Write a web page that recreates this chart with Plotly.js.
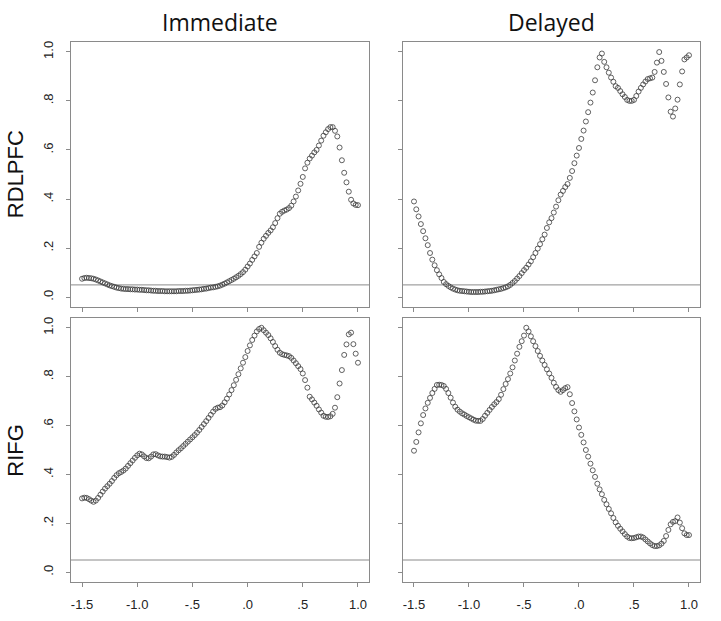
<!DOCTYPE html>
<html>
<head>
<meta charset="utf-8">
<script src="https://cdn.plot.ly/plotly-3.0.1.min.js"></script>
<style>html,body{margin:0;padding:0;background:#fff;}#chart{width:721px;height:621px;}</style>
</head>
<body>
<div id="chart"></div>
<script>
// x grid (moderator values)
const xVals = [
 -1.5,-1.4792,-1.4583,-1.4375,-1.4167,-1.3958,-1.375,-1.3542,-1.3333,-1.3125,-1.2917,-1.2708,-1.25,-1.2292,-1.2083,-1.1875,-1.1667,-1.1458,-1.125,-1.1042,-1.0833,-1.0625,-1.0417,-1.0208,
 -1,-0.9792,-0.9583,-0.9375,-0.9167,-0.8958,-0.875,-0.8542,-0.8333,-0.8125,-0.7917,-0.7708,-0.75,-0.7292,-0.7083,-0.6875,-0.6667,-0.6458,-0.625,-0.6042,-0.5833,-0.5625,-0.5417,-0.5208,
 -0.5,-0.4792,-0.4583,-0.4375,-0.4167,-0.3958,-0.375,-0.3542,-0.3333,-0.3125,-0.2917,-0.2708,-0.25,-0.2292,-0.2083,-0.1875,-0.1667,-0.1458,-0.125,-0.1042,-0.0833,-0.0625,-0.0417,-0.0208,
 0,0.0208,0.0417,0.0625,0.0833,0.1042,0.125,0.1458,0.1667,0.1875,0.2083,0.2292,0.25,0.2708,0.2917,0.3125,0.3333,0.3542,0.375,0.3958,0.4167,0.4375,0.4583,0.4792,
 0.5,0.5208,0.5417,0.5625,0.5833,0.6042,0.625,0.6458,0.6667,0.6875,0.7083,0.7292,0.75,0.7708,0.7917,0.8125,0.8333,0.8542,0.875,0.8958,0.9167,0.9375,0.9583,0.9792,
 1.0];

const immediateRDLPFC = [
 0.075,0.078,0.079,0.078,0.077,0.075,0.072,0.068,0.064,0.060,0.056,0.052,0.048,0.045,0.042,0.039,0.037,0.035,0.034,0.033,0.033,0.032,0.032,0.031,
 0.031,0.030,0.030,0.029,0.028,0.028,0.027,0.026,0.026,0.025,0.025,0.025,0.024,0.024,0.024,0.024,0.024,0.024,0.025,0.025,0.025,0.026,0.026,0.027,
 0.028,0.029,0.030,0.031,0.032,0.034,0.035,0.037,0.039,0.040,0.042,0.044,0.047,0.051,0.055,0.060,0.065,0.070,0.075,0.081,0.087,0.094,0.102,0.112,
 0.125,0.137,0.152,0.166,0.180,0.205,0.222,0.238,0.250,0.262,0.272,0.285,0.302,0.322,0.340,0.348,0.353,0.357,0.363,0.373,0.390,0.410,0.435,0.462,
 0.490,0.525,0.548,0.565,0.577,0.590,0.600,0.618,0.638,0.658,0.672,0.685,0.693,0.693,0.678,0.655,0.610,0.558,0.507,0.468,0.430,0.397,0.382,0.376,
 0.375];

const delayedRDLPFC = [
 0.390,0.358,0.329,0.298,0.269,0.240,0.212,0.180,0.153,0.130,0.110,0.093,0.078,0.062,0.053,0.046,0.040,0.035,0.031,0.028,0.026,0.025,0.024,0.023,
 0.022,0.021,0.021,0.021,0.021,0.022,0.022,0.023,0.024,0.025,0.026,0.028,0.030,0.032,0.034,0.037,0.040,0.044,0.050,0.058,0.066,0.076,0.086,0.098,
 0.110,0.120,0.133,0.146,0.163,0.180,0.198,0.216,0.236,0.255,0.282,0.305,0.322,0.345,0.369,0.395,0.418,0.433,0.449,0.461,0.486,0.514,0.546,0.577,
 0.608,0.645,0.679,0.716,0.754,0.793,0.834,0.884,0.937,0.977,0.993,0.959,0.937,0.915,0.895,0.878,0.860,0.853,0.840,0.827,0.816,0.804,0.800,0.800,
 0.804,0.820,0.838,0.853,0.867,0.879,0.889,0.892,0.895,0.918,0.956,0.999,0.963,0.918,0.869,0.814,0.756,0.736,0.769,0.805,0.867,0.920,0.969,0.977,
 0.986];

const immediateRIFG = [
 0.302,0.305,0.304,0.299,0.293,0.288,0.293,0.304,0.317,0.330,0.342,0.352,0.362,0.373,0.386,0.397,0.405,0.410,0.416,0.424,0.435,0.446,0.457,0.468,
 0.478,0.485,0.482,0.474,0.467,0.466,0.473,0.482,0.483,0.478,0.474,0.473,0.473,0.471,0.469,0.472,0.480,0.490,0.499,0.507,0.516,0.525,0.534,0.543,
 0.552,0.561,0.571,0.582,0.594,0.606,0.618,0.631,0.644,0.657,0.668,0.673,0.675,0.682,0.695,0.710,0.727,0.745,0.765,0.787,0.810,0.834,0.857,0.880,
 0.905,0.928,0.950,0.968,0.985,0.995,1.000,0.990,0.980,0.970,0.957,0.942,0.925,0.910,0.898,0.892,0.889,0.887,0.884,0.877,0.866,0.855,0.843,0.831,
 0.813,0.786,0.755,0.718,0.707,0.694,0.681,0.666,0.653,0.640,0.636,0.635,0.638,0.648,0.673,0.716,0.772,0.827,0.889,0.932,0.973,0.980,0.933,0.894,
 0.857];

const delayedRIFG = [
 0.497,0.533,0.572,0.609,0.643,0.670,0.693,0.713,0.733,0.750,0.766,0.767,0.766,0.762,0.750,0.733,0.714,0.694,0.677,0.665,0.657,0.650,0.645,0.639,
 0.634,0.629,0.624,0.620,0.619,0.619,0.627,0.640,0.652,0.664,0.676,0.687,0.696,0.708,0.726,0.749,0.770,0.790,0.813,0.838,0.866,0.894,0.922,0.945,
 0.968,1.000,0.985,0.965,0.945,0.925,0.905,0.885,0.866,0.848,0.830,0.813,0.795,0.775,0.758,0.745,0.738,0.745,0.753,0.757,0.728,0.692,0.658,0.625,
 0.592,0.562,0.531,0.500,0.473,0.444,0.417,0.390,0.362,0.339,0.319,0.296,0.278,0.259,0.241,0.222,0.204,0.190,0.178,0.167,0.156,0.146,0.140,0.139,
 0.140,0.143,0.146,0.146,0.142,0.134,0.126,0.118,0.111,0.107,0.107,0.110,0.117,0.128,0.148,0.173,0.196,0.206,0.209,0.224,0.203,0.180,0.159,0.152,
 0.152];

const threshold = 0.05;
const xTickVals = [-1.5,-1,-0.5,0,0.5,1];
const xTickText = ["-1.5","-1.0","-.5",".0",".5","1.0"];
const yTickVals = [0,0.2,0.4,0.6,0.8,1];
const yTickText = [".0",".2",".4",".6",".8","1.0"];
const colTitles = ["Immediate","Delayed"];
const rowTitles = ["RDLPFC","RIFG"];

const marker = {symbol:'circle-open', size:5, color:'#3a3a3a', line:{width:0.8, color:'#3a3a3a'}};
function tr(y, xa, ya){ return {x:xVals, y:y, xaxis:xa, yaxis:ya, type:'scatter', mode:'markers', marker:marker, hoverinfo:'skip', showlegend:false}; }

const frame = '#8a8a8a';
const tickFont = {family:'Liberation Sans, Arial, sans-serif', size:13, color:'#222'};
function xa(domain, anchor, labels){
  return {domain:domain, anchor:anchor, range:[-1.6,1.1], tickvals:xTickVals, ticktext:xTickText, showticklabels:labels,
    ticks:'outside', ticklen:4, tickcolor:frame, tickwidth:1, showline:true, mirror:true, linecolor:frame, linewidth:1,
    showgrid:false, zeroline:false, tickfont:tickFont, ticklabelstandoff:6};
}
function ya(domain, anchor, labels){
  return {domain:domain, anchor:anchor, range:[-0.04,1.04], tickvals:yTickVals, ticktext:yTickText, showticklabels:labels,
    tickangle:-90, ticks:'outside', ticklen:4, tickcolor:frame, tickwidth:1, showline:true, mirror:true, linecolor:frame, linewidth:1,
    showgrid:false, zeroline:false, tickfont:tickFont, ticklabelstandoff:8};
}
const dL=[0,0.4738], dR=[0.5278,1], dT=[0.5093,1], dB=[0,0.4889];

const data = [
  tr(immediateRDLPFC,'x','y'),
  tr(delayedRDLPFC,'x2','y2'),
  tr(immediateRIFG,'x3','y3'),
  tr(delayedRIFG,'x4','y4')
];

function hline(xr, yr){ return {type:'line', xref:xr+' domain', x0:0, x1:1, yref:yr, y0:threshold, y1:threshold, line:{color:frame, width:1}, layer:'below'}; }

const titleFont = {family:'Open Sans, Noto Sans, sans-serif', size:23, color:'#111'};
const rowFont = {family:'Liberation Sans, Arial, sans-serif', size:22, color:'#111'};

const layout = {
  width:721, height:621,
  margin:{l:71, r:21, t:42, b:39, pad:0},
  paper_bgcolor:'#fff', plot_bgcolor:'#fff',
  showlegend:false,
  xaxis: xa(dL,'y',false),  yaxis: ya(dT,'x',true),
  xaxis2: xa(dR,'y2',false), yaxis2: ya(dT,'x2',false),
  xaxis3: xa(dL,'y3',true),  yaxis3: ya(dB,'x3',true),
  xaxis4: xa(dR,'y4',true),  yaxis4: ya(dB,'x4',false),
  shapes:[hline('x','y'), hline('x2','y2'), hline('x3','y3'), hline('x4','y4')],
  annotations:[
    {text:colTitles[0], xref:'paper', yref:'paper', x:(dL[0]+dL[1])/2, y:1.037, xanchor:'center', yanchor:'middle', showarrow:false, font:titleFont},
    {text:colTitles[1], xref:'paper', yref:'paper', x:(dR[0]+dR[1])/2, y:1.037, xanchor:'center', yanchor:'middle', showarrow:false, font:titleFont},
    {text:rowTitles[0], xref:'paper', yref:'paper', x:-0.088, y:(dT[0]+dT[1])/2, xanchor:'center', yanchor:'middle', textangle:-90, showarrow:false, font:rowFont},
    {text:rowTitles[1], xref:'paper', yref:'paper', x:-0.088, y:(dB[0]+dB[1])/2, xanchor:'center', yanchor:'middle', textangle:-90, showarrow:false, font:rowFont}
  ]
};

Plotly.newPlot('chart', data, layout, {displayModeBar:false, staticPlot:true});
</script>
</body>
</html>
